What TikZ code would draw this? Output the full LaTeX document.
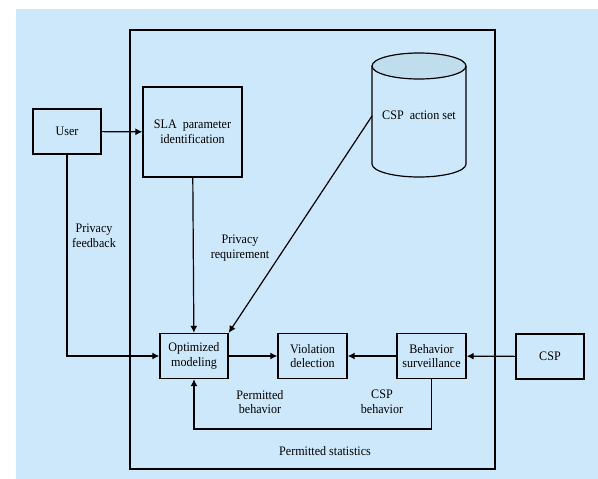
\documentclass[tikz,border=0pt]{standalone}
\usepackage{fontspec}
\setmainfont[FakeStretch=0.93]{Liberation Serif}
\usetikzlibrary{arrows.meta}
\definecolor{bgblue}{RGB}{205,232,250}
\definecolor{capblue}{RGB}{192,221,238}
\tikzstyle{block}=[shape = rectangle, draw, line width = 1.4pt, align = center, inner sep = 2pt, minimum height = 45pt]
\tikzstyle{arr}=[line width = 1.2pt, -{Latex[length=7pt,width=7pt]}]
\tikzstyle{lbl}=[align = center, inner sep = 1pt]

\begin{document}
\begin{tikzpicture}[x = 1pt, y = -1pt, font = \fontsize{13}{14.5}\selectfont]
\useasboundingbox (0,0) rectangle (598,479);
\fill[bgblue] (16,9) rectangle (598,479);
\draw[line width = 1.2pt] (130,30) rectangle (495,469);
% action set cylinder
\fill[capblue] (419,66) ellipse [x radius = 47pt, y radius = 13pt];
\draw[line width = 1.2pt] (372,66) -- (372,164) arc [start angle = 180, end angle = 360, x radius = 47pt, y radius = 13pt] -- (466,66);
\draw[line width = 1.2pt] (419,66) ellipse [x radius = 47pt, y radius = 13pt];
\node (csa) at (419,115) {CSP~~action set};
\coordinate (csaw) at (372,116);
\node[block, minimum width = 68pt] (user) at (67,131.5) {User};
\node[block, minimum width = 99pt, minimum height = 90pt] (sla) at (192.5,132) {SLA~ parameter\\identification};
\node[block, minimum width = 68pt] (opt) at (194,356) {Optimized\\modeling};
\node[block, minimum width = 69pt] (vio) at (312.5,356) {Violation\\delection};
\node[block, minimum width = 69pt] (beh) at (431.5,356) {Behavior\\surveillance};
\node[block, minimum width = 68pt] (csp) at (550,356.5) {CSP};
\coordinate (loop) at (300,429);
% connectors
\draw[arr] (user) -- (sla);
\draw[arr] (sla) -- (opt);
\draw[arr] (csaw) -- (opt.north east);
\draw[arr] (user.south) |- (opt.west);
\draw[arr] (opt) -- (vio);
\draw[arr] (beh) -- (vio);
\draw[arr] (csp) -- (beh);
\draw[arr] (beh.south) -- (beh.south |- loop) -| (opt.south);
% labels
\node[lbl] (lfb) at (94,236) {Privacy\\feedback};
\node[lbl] (lrq) at (240,248) {Privacy\\requirement};
\node[lbl] (lpb) at (260,402) {Permitted\\behavior};
\node[lbl] (lcb) at (382,402) {CSP\\behavior};
\node[lbl] (lps) at (325,451) {Permitted statistics};
\end{tikzpicture}
\end{document}
